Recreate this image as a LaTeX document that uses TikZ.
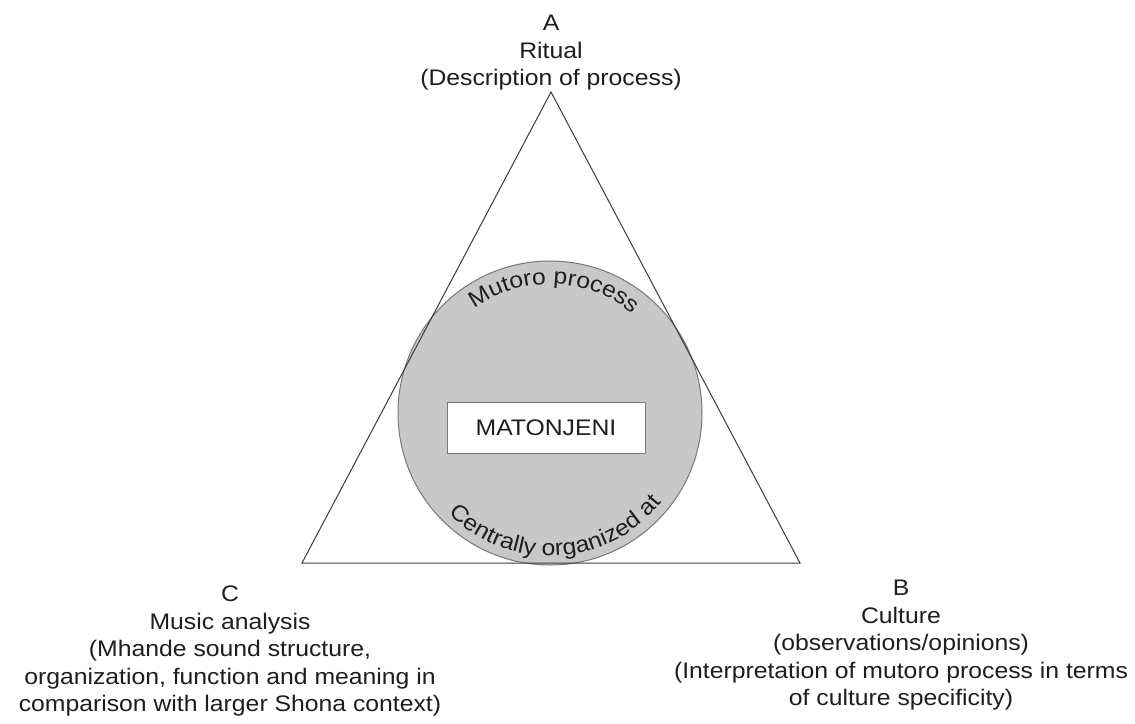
\documentclass[tikz,border=0pt]{standalone}
\usepackage{fontspec}
\setmainfont{Liberation Sans}[FakeStretch=1.1]
\usetikzlibrary{decorations.text}
\newcommand{\lblfont}{\fontsize{22.5}{27.5}\selectfont}
\definecolor{circfill}{RGB}{200,200,200}
\definecolor{circline}{RGB}{120,120,120}
\definecolor{triline}{RGB}{60,60,60}
\definecolor{txt}{RGB}{30,30,30}
\tikzset{
  lbl/.style={align=center, inner sep=0pt, anchor=north, font=\lblfont, text=txt},
  tri/.style={draw=triline, line width=1pt},
  disc/.style={draw=circline, fill=circfill, line width=1pt},
  namebox/.style={draw=circline, fill=white, line width=1pt, minimum width=198pt, minimum height=51pt, inner sep=0pt, font=\lblfont, text=txt},
}
\begin{document}
\begin{tikzpicture}[x=1pt,y=-1pt]
\fill[white] (0,0) rectangle (1135,723);
\useasboundingbox (0,0) rectangle (1135,723);
\coordinate (ctr) at (550,413);
\node[disc, circle, minimum size=304pt, inner sep=0pt] (circ) at (ctr) {};
\coordinate (A) at (551,92);
\coordinate (C) at (302,563);
\coordinate (B) at (800,563);
\draw[tri] (A) -- (B) -- (C) -- cycle;
\node[namebox] (mat) at (546,428) {MATONJENI};
\path[decorate, decoration={text along path, text align=center, text={|\lblfont\color{txt}|Mutoro process}}]
  (ctr) ++(229:129) arc[start angle=229, end angle=315, radius=129];
\path[decorate, decoration={text along path, text align=center, text={|\lblfont\color{txt}|Centrally organized at}}]
  (ctr) ++(150:143) arc[start angle=150, end angle=24, radius=143];
\node[lbl] (la) at (551,15) {A\\Ritual\\(Description of process)};
\node[lbl] (lc) at (230,586) {C\\Music analysis\\(Mhande sound structure,\\organization, function and meaning in\\comparison with larger Shona context)};
\node[lbl] (lb) at (901,580) {B\\Culture\\(observations/opinions)\\(Interpretation of mutoro process in terms\\of culture specificity)};
\end{tikzpicture}
\end{document}
